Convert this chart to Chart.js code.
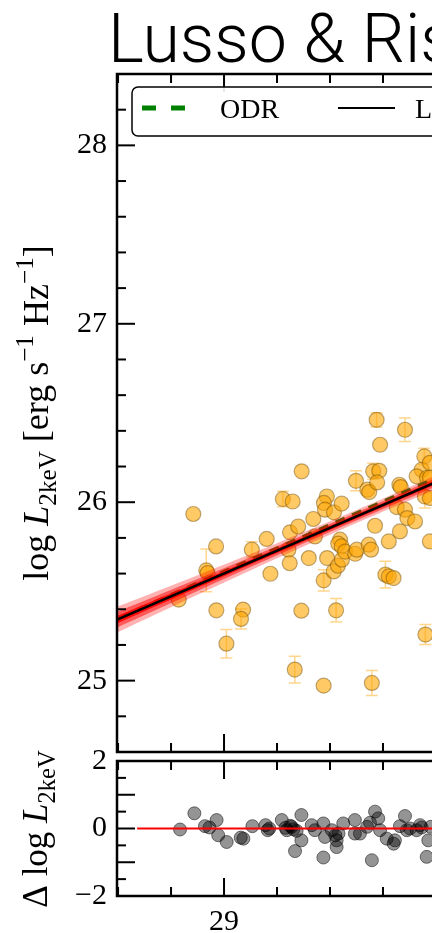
<!DOCTYPE html>
<html>
<head>
<meta charset="utf-8">
<script src="https://cdn.jsdelivr.net/npm/chart.js@4.4.0/dist/chart.umd.min.js"></script>
<style>
  html, body { margin: 0; padding: 0; background: #fff; overflow: hidden; }
  #wrap { position: relative; width: 432px; height: 933px; }
  #mainCanvas { position: absolute; left: 0; top: 0; }
  #residCanvas { position: absolute; left: 0; top: 740px; }
</style>
</head>
<body>
<div id="wrap">
  <canvas id="mainCanvas" width="432" height="757"></canvas>
  <canvas id="residCanvas" width="432" height="193"></canvas>
</div>
<script>
// --- data ---
const obsX = [28.884, 28.829, 28.933, 28.938, 28.970, 28.971, 29.009, 29.072, 29.064, 29.105,
              29.161, 29.175, 29.222, 29.259, 29.249, 29.280, 29.243, 29.248, 29.293, 29.267,
              29.292, 29.320, 29.337, 29.343, 29.376, 29.376, 29.388, 29.377, 29.381, 29.389,
              29.415, 29.444, 29.438, 29.431, 29.444, 29.423, 29.414, 29.430, 29.445, 29.457,
              29.495, 29.498, 29.501, 29.546, 29.555, 29.541, 29.548, 29.558, 29.563, 29.586,
              29.578, 29.576, 29.589, 29.570, 29.609, 29.622, 29.640, 29.622, 29.652, 29.662,
              29.667, 29.664, 29.683, 29.683, 29.692, 29.721, 29.756, 29.746, 29.727, 29.766,
              29.777, 29.777, 29.758, 29.777, 29.777, 29.760];
const obsY = [25.934, 25.454, 25.618, 25.603, 25.752, 25.394, 25.207, 25.398, 25.346, 25.734,
              25.794, 25.599, 26.018, 26.004, 25.831, 25.864, 25.734, 25.658, 26.173, 25.062,
              25.392, 25.687, 25.906, 25.808, 25.562, 24.972, 26.032, 25.996, 25.958, 25.687,
              25.943, 25.992, 25.790, 25.768, 25.752, 25.394, 25.612, 25.644, 25.678, 25.723,
              25.711, 26.120, 25.734, 25.762, 25.734, 26.070, 26.057, 24.987, 26.173, 26.176,
              26.111, 26.462, 26.322, 25.868, 25.594, 25.584, 25.575, 25.780, 25.973, 26.098,
              26.085, 25.836, 26.406, 25.958, 25.911, 25.892, 26.257, 26.182, 26.145, 26.137,
              26.221, 26.137, 26.032, 26.024, 25.780, 25.258];
const obsErr = [0, 0, 0.12, 0, 0, 0, 0.08, 0, 0.056, 0.045,
                0, 0, 0.044, 0, 0, 0, 0, 0, 0, 0.075,
                0, 0, 0, 0, 0.06, 0, 0, 0, 0, 0,
                0, 0, 0, 0, 0, 0.066, 0, 0, 0, 0,
                0, 0.056, 0, 0, 0, 0, 0, 0.07, 0.045, 0,
                0, 0.04, 0, 0, 0.075, 0, 0, 0, 0, 0,
                0, 0, 0.066, 0, 0, 0, 0.045, 0, 0, 0,
                0, 0, 0.065, 0, 0, 0.056];

// fitted relation (solid) and ODR (dashed)
const fitX = [28.55, 29.85];
const fitY = [25.312, 26.144];
const odrX = [28.55, 29.85];
const odrY = [25.32, 26.168];

// confidence band around the fit
const bandX = [28.55, 28.9, 29.2, 29.5, 29.85];
const bandOuterLo = [25.237, 25.481, 25.686, 25.884, 26.104];
const bandOuterHi = [25.387, 25.591, 25.770, 25.956, 26.184];
const bandMidLo = [25.267, 25.503, 25.703, 25.898, 26.120];
const bandMidHi = [25.357, 25.569, 25.753, 25.942, 26.168];
const bandInLo = [25.290, 25.520, 25.715, 25.909, 26.132];
const bandInHi = [25.334, 25.552, 25.741, 25.931, 26.156];

// residual panel
const residX = [28.834, 28.888, 28.928, 28.945, 28.972, 28.978, 29.010, 29.063, 29.073, 29.107,
                29.157, 29.165, 29.171, 29.218, 29.232, 29.237, 29.250, 29.255, 29.262, 29.274,
                29.292, 29.292, 29.268, 29.331, 29.343, 29.375, 29.375, 29.381, 29.407, 29.420,
                29.432, 29.425, 29.425, 29.450, 29.494, 29.494, 29.513, 29.540, 29.551, 29.570,
                29.582, 29.558, 29.589, 29.614, 29.640, 29.645, 29.664, 29.683, 29.690, 29.702,
                29.727, 29.740, 29.746, 29.765, 29.771, 29.780];
const residY = [-0.03, 0.45, 0.07, 0.03, 0.25, -0.20, -0.40, -0.27, -0.30, 0.07,
                0.10, -0.05, 0.00, 0.25, 0.02, -0.05, 0.08, 0.05, -0.02, -0.07,
                0.40, -0.35, -0.67, 0.10, -0.05, -0.86, 0.15, -0.25, -0.05, -0.20,
                -0.15, -0.35, -0.55, 0.15, 0.25, -0.15, -0.15, 0.05, 0.17, 0.50,
                0.30, -0.94, -0.05, -0.30, -0.45, -0.35, 0.07, 0.37, -0.05, 0.00,
                -0.05, 0.10, 0.03, -0.84, -0.35, 0.05];
const zeroX = [28.672, 30.0];
const zeroY = [0, 0];

// tick labels
const xTicks = [29, 30];
const mainYTicks = [25, 26, 27, 28];
const residYTicks = [-2, -1, 0, 1, 2];

const X_MIN = 28.596, X_MAX = 29.785;
const SERIF = '"Liberation Serif", "DejaVu Serif", serif';

document.addEventListener('DOMContentLoaded', () => {
    Chart.defaults.color = '#000';
    Chart.defaults.animation = false;

    const pts = (xs, ys) => xs.map((x, i) => ({ x: x, y: ys[i] }));

    // --- y label with sub/superscripts, rotated ---
    function drawRichLabel(ctx, parts, cx, cy, size) {
        ctx.save();
        ctx.translate(cx, cy);
        ctx.rotate(-Math.PI / 2);
        ctx.fillStyle = '#000';
        ctx.textBaseline = 'alphabetic';
        ctx.textAlign = 'left';
        const fontFor = p => {
            const s = (p.k === 'sub' || p.k === 'sup') ? size * 0.7 : size;
            return (p.k === 'it' ? 'italic ' : '') + s + 'px ' + SERIF;
        };
        let total = 0;
        parts.forEach(p => { ctx.font = fontFor(p); total += ctx.measureText(p.t).width; });
        let x = -total / 2;
        parts.forEach(p => {
            ctx.font = fontFor(p);
            const dy = p.k === 'sub' ? size * 0.22 : (p.k === 'sup' ? -size * 0.42 : 0);
            ctx.fillText(p.t, x, dy);
            x += ctx.measureText(p.t).width;
        });
        ctx.restore();
    }

    // --- frame with inward ticks ---
    function drawFrame(chart, yStep) {
        const { ctx, chartArea: a, scales } = chart;
        ctx.save();
        ctx.strokeStyle = '#000';
        ctx.lineCap = 'butt';
        ctx.lineWidth = 2;
        for (let k = 143; k <= 150; k++) {
            const v = k * 0.2;
            const px = scales.x.getPixelForValue(v);
            const len = Math.abs(v - Math.round(v)) < 1e-6 ? 18 : 9;
            ctx.beginPath();
            ctx.moveTo(px, a.top); ctx.lineTo(px, a.top + len);
            ctx.moveTo(px, a.bottom); ctx.lineTo(px, a.bottom - len);
            ctx.stroke();
        }
        const ys = scales.y;
        const k0 = Math.ceil(ys.min / yStep - 1e-6), k1 = Math.floor(ys.max / yStep + 1e-6);
        for (let k = k0; k <= k1; k++) {
            const v = k * yStep;
            const py = ys.getPixelForValue(v);
            const len = Math.abs(v - Math.round(v)) < 1e-6 ? 18 : 9;
            ctx.beginPath();
            ctx.moveTo(a.left, py); ctx.lineTo(a.left + len, py);
            ctx.stroke();
        }
        ctx.lineWidth = 2.5;
        ctx.beginPath();
        ctx.moveTo(a.right + 5, a.top); ctx.lineTo(a.left, a.top);
        ctx.lineTo(a.left, a.bottom); ctx.lineTo(a.right + 5, a.bottom);
        ctx.stroke();
        ctx.restore();
    }

    // --- error bars under the markers ---
    const errorBars = {
        id: 'errorBars',
        beforeDatasetsDraw(chart) {
            const { ctx, chartArea: a, scales } = chart;
            ctx.save();
            ctx.beginPath();
            ctx.rect(a.left, a.top, a.right - a.left, a.bottom - a.top);
            ctx.clip();
            ctx.strokeStyle = 'rgba(255,165,0,0.45)';
            ctx.lineWidth = 1.5;
            obsErr.forEach((e, i) => {
                if (!e) return;
                const px = scales.x.getPixelForValue(obsX[i]);
                const y1 = scales.y.getPixelForValue(obsY[i] + e);
                const y2 = scales.y.getPixelForValue(obsY[i] - e);
                ctx.beginPath();
                ctx.moveTo(px, y1); ctx.lineTo(px, y2);
                ctx.moveTo(px - 6, y1); ctx.lineTo(px + 6, y1);
                ctx.moveTo(px - 6, y2); ctx.lineTo(px + 6, y2);
                ctx.stroke();
            });
            ctx.restore();
        }
    };

    const mainDecor = {
        id: 'mainDecor',
        afterDraw(chart) {
            const ctx = chart.ctx;
            drawFrame(chart, 0.2);
            // title
            ctx.save();
            ctx.fillStyle = '#000';
            ctx.font = '300 68px Roboto, "Liberation Sans", sans-serif';
            ctx.textBaseline = 'alphabetic';
            ctx.fillText('Lusso & Risaliti', 108, 62);
            // legend box
            ctx.beginPath();
            ctx.roundRect(132, 87, 420, 49, 6);
            ctx.fillStyle = 'rgba(255,255,255,0.9)';
            ctx.fill();
            ctx.lineWidth = 1.5;
            ctx.strokeStyle = '#000';
            ctx.stroke();
            ctx.strokeStyle = 'green';
            ctx.lineWidth = 5;
            ctx.setLineDash([14, 15]);
            ctx.beginPath(); ctx.moveTo(142, 108); ctx.lineTo(186, 108); ctx.stroke();
            ctx.setLineDash([]);
            ctx.strokeStyle = '#000';
            ctx.lineWidth = 2;
            ctx.beginPath(); ctx.moveTo(338, 108); ctx.lineTo(395, 108); ctx.stroke();
            ctx.fillStyle = '#000';
            ctx.font = '28px ' + SERIF;
            ctx.fillText('ODR', 220, 118);
            ctx.fillText('LINMIX', 415, 118);
            ctx.restore();
            drawRichLabel(ctx, [
                { t: 'log ', k: 'n' }, { t: 'L', k: 'it' }, { t: '2keV', k: 'sub' },
                { t: ' [erg s', k: 'n' }, { t: '\u22121', k: 'sup' },
                { t: ' Hz', k: 'n' }, { t: '\u22121', k: 'sup' }, { t: ']', k: 'n' }
            ], 48, 413, 36);
        }
    };

    const residDecor = {
        id: 'residDecor',
        afterDraw(chart) {
            drawFrame(chart, 0.5);
            drawRichLabel(chart.ctx, [
                { t: '\u0394 log ', k: 'n' }, { t: 'L', k: 'it' }, { t: '2keV', k: 'sub' }
            ], 47, 89, 35);
        }
    };

    const yTickFont = { family: SERIF, size: 30 };
    const signed = v => v < 0 ? '\u2212' + Math.abs(v) : String(v);
    // keep the plot area exactly where the layout padding puts it
    const fixY = s => { s.width = 117; s.paddingTop = 0; s.paddingBottom = 0; };

    // --- main panel ---
    new Chart(document.getElementById('mainCanvas'), {
        type: 'line',
        data: {
            datasets: [
                { data: pts(fitX, fitY), borderColor: '#000', borderWidth: 2.5, pointRadius: 0, order: 0 },
                { data: pts(bandX, bandOuterLo), borderWidth: 0, pointRadius: 0, tension: 0.3, fill: false, order: 3 },
                { data: pts(bandX, bandOuterHi), borderWidth: 0, pointRadius: 0, tension: 0.3, fill: '-1',
                  backgroundColor: 'rgba(255,0,0,0.3)', order: 3 },
                { data: pts(bandX, bandMidLo), borderWidth: 0, pointRadius: 0, tension: 0.3, fill: false, order: 2 },
                { data: pts(bandX, bandMidHi), borderWidth: 0, pointRadius: 0, tension: 0.3, fill: '-1',
                  backgroundColor: 'rgba(255,0,0,0.5)', order: 2 },
                { data: pts(bandX, bandInLo), borderWidth: 0, pointRadius: 0, tension: 0.3, fill: false, order: 1 },
                { data: pts(bandX, bandInHi), borderWidth: 0, pointRadius: 0, tension: 0.3, fill: '-1',
                  backgroundColor: 'rgba(255,0,0,0.9)', order: 1 },
                { data: pts(odrX, odrY), borderColor: 'green', borderWidth: 3, borderDash: [10, 8],
                  pointRadius: 0, order: 5 },
                { data: pts(obsX, obsY), showLine: false, pointRadius: 7.5, pointHoverRadius: 7.5,
                  pointBackgroundColor: 'rgba(255,165,0,0.6)', pointBorderColor: 'rgba(110,75,0,0.45)',
                  pointBorderWidth: 1.2, order: 10 }
            ]
        },
        options: {
            responsive: false,
            devicePixelRatio: 1,
            layout: { autoPadding: false, padding: { top: 74, bottom: 5, left: 0, right: 0 } },
            plugins: { legend: { display: false }, tooltip: { enabled: false } },
            scales: {
                x: { type: 'linear', min: X_MIN, max: X_MAX, display: false },
                y: {
                    type: 'linear', min: 24.6, max: 28.4,
                    grid: { display: false, drawTicks: false },
                    border: { display: false },
                    ticks: { font: yTickFont, padding: 10, callback: signed },
                    afterBuildTicks: s => { s.ticks = mainYTicks.map(v => ({ value: v })); },
                    afterFit: fixY
                }
            }
        },
        plugins: [errorBars, mainDecor]
    });

    // --- residual panel ---
    new Chart(document.getElementById('residCanvas'), {
        type: 'line',
        data: {
            datasets: [
                { data: pts(zeroX, zeroY), borderColor: '#ff0000', borderWidth: 2, pointRadius: 0, order: 0 },
                { data: pts(residX, residY), showLine: false, pointRadius: 6.5, pointHoverRadius: 6.5,
                  pointBackgroundColor: 'rgba(0,0,0,0.42)', pointBorderColor: 'rgba(0,0,0,0.5)',
                  pointBorderWidth: 1, order: 1 }
            ]
        },
        options: {
            responsive: false,
            devicePixelRatio: 1,
            layout: { autoPadding: false, padding: { top: 21, bottom: 0, left: 0, right: 0 } },
            plugins: { legend: { display: false }, tooltip: { enabled: false } },
            scales: {
                x: {
                    type: 'linear', min: X_MIN, max: X_MAX,
                    grid: { display: false, drawTicks: false },
                    border: { display: false },
                    ticks: { font: yTickFont, padding: 8, autoSkip: false, maxRotation: 0 },
                    afterBuildTicks: s => { s.ticks = xTicks.filter(v => v >= s.min && v <= s.max).map(v => ({ value: v })); },
                    afterFit: s => { s.height = 37; s.paddingLeft = 0; s.paddingRight = 0; }
                },
                y: {
                    type: 'linear', min: -2, max: 2,
                    grid: { display: false, drawTicks: false },
                    border: { display: false },
                    ticks: { font: yTickFont, padding: 10, callback: signed },
                    afterBuildTicks: s => { s.ticks = residYTicks.map(v => ({ value: v })); },
                    afterFit: fixY
                }
            }
        },
        plugins: [residDecor]
    });
});
</script>
</body>
</html>
